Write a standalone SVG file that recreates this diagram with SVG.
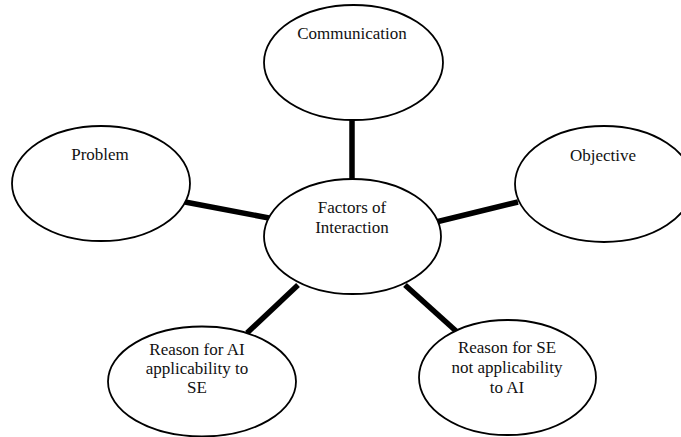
<svg xmlns="http://www.w3.org/2000/svg" width="681" height="437" viewBox="0 0 681 437">
<style>
.n ellipse{fill:#fff;stroke:#000;stroke-width:1.8}
.n text{font-family:"Times New Roman","Liberation Serif","DejaVu Serif",serif;font-size:17px;fill:#111;text-anchor:middle}
.c line{stroke:#000;stroke-width:5.5}
</style>
<rect width="681" height="437" fill="#fff"/>
<g class="c" id="connectors">
<line x1="352" y1="119" x2="352" y2="180"/>
<line x1="185" y1="202" x2="269" y2="218"/>
<line x1="436" y1="222" x2="518" y2="202"/>
<line x1="298" y1="285" x2="247" y2="333"/>
<line x1="405" y1="285" x2="456" y2="331"/>
</g>
<g class="n" id="communication"><ellipse cx="353.5" cy="62.5" rx="89.5" ry="57.5"/><text x="352" y="39">Communication</text></g>
<g class="n" id="problem"><ellipse cx="101" cy="183.5" rx="89" ry="57.5"/><text x="100" y="160">Problem</text></g>
<g class="n" id="objective"><ellipse cx="604" cy="184" rx="89" ry="58"/><text x="603" y="161">Objective</text></g>
<g class="n" id="factors"><ellipse cx="352.5" cy="236.5" rx="88.5" ry="57.5"/><text x="352" y="213">Factors of</text><text x="352" y="233">Interaction</text></g>
<g class="n" id="reason-ai"><ellipse cx="202" cy="381.5" rx="94" ry="55"/><text x="197" y="355">Reason for AI</text><text x="197" y="374">applicability to</text><text x="197" y="393">SE</text></g>
<g class="n" id="reason-se"><ellipse cx="507.5" cy="377.5" rx="88.5" ry="57.5"/><text x="507" y="353">Reason for SE</text><text x="507" y="373">not applicability</text><text x="507" y="393">to AI</text></g>
</svg>
